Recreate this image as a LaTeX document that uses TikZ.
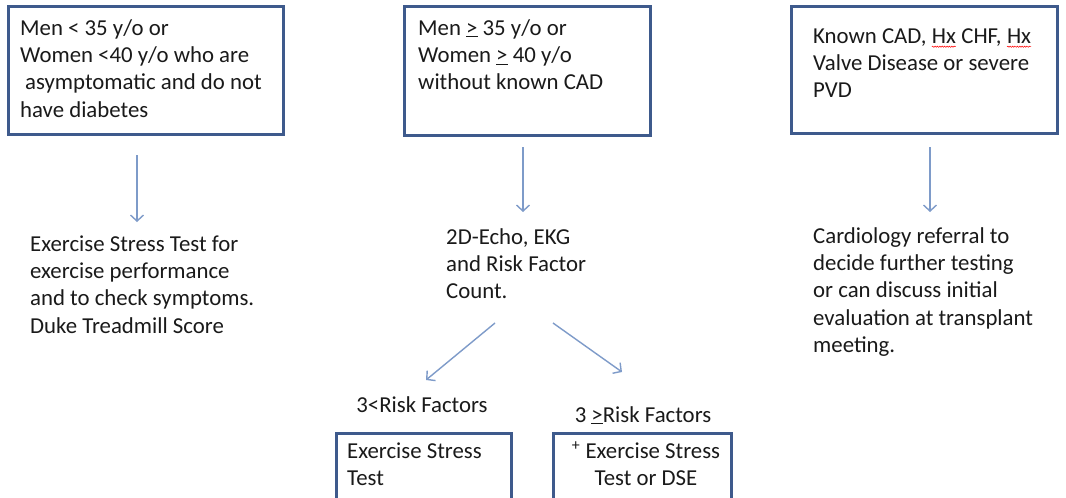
\documentclass[tikz,border=0pt]{standalone}
\usepackage{fontspec}
\setmainfont{Carlito}
\usetikzlibrary{arrows.meta,decorations.pathmorphing}
\definecolor{boxc}{HTML}{3E5A8C}
\definecolor{arrc}{HTML}{7E9BC9}
\definecolor{txtc}{HTML}{1A1A1A}
\newcommand\redsq[1]{\tikz[baseline=(w.base)]{\node[anchor=base,inner sep=0pt,outer sep=0pt,text=txtc] (w) {#1};
  \draw[red,line width=0.5pt,decorate,decoration={snake,amplitude=0.6pt,segment length=2.4pt}]
    ([yshift=-3.5pt]w.base west) -- ([yshift=-3.5pt]w.base east);}}
\begin{document}
\begin{tikzpicture}[x=1pt,y=-1pt,
  box/.style={draw=boxc,line width=2.6pt,rectangle,inner sep=0pt},
  txt/.style={anchor=north west,inner sep=0pt,align=left,text=txtc,
    font=\fontsize{22.8}{27.3}\selectfont},
  ctxt/.style={txt,anchor=north,align=center},
  arr/.style={draw=arrc,line width=1.4pt,-{Straight Barb[length=6pt,width=13pt]}}]
\useasboundingbox[fill=white] (0,0) rectangle (1066,498);
\newcommand\tp{\rule{0pt}{20pt}}
% boxes
\node[box,minimum width=275pt,minimum height=128pt] (b1) at (146,70.5) {};
\node[box,minimum width=246pt,minimum height=129pt] (b2) at (527.5,71) {};
\node[box,minimum width=266pt,minimum height=127pt] (b3) at (924.5,70) {};
\node[box,minimum width=175pt,minimum height=100pt] (b4) at (424,483.5) {};
\node[box,minimum width=178pt,minimum height=100pt] (b5) at (642.5,483.5) {};
% texts
\node[txt] (t1) at (20,15) {\tp Men < 35 y/o or\\Women <40 y/o who are\\\hspace*{5pt}asymptomatic and do not\\have diabetes};
\node[txt] (t2) at (418,15) {\tp Men \underline{>} 35 y/o or\\Women \underline{>} 40 y/o\\without known CAD};
\node[txt] (t3) at (813,23) {\tp Known CAD, \redsq{Hx} CHF, \redsq{Hx}\\Valve Disease or severe\\PVD};
\node[txt] (t4) at (30,231) {\tp Exercise Stress Test for\\exercise performance\\and to check symptoms.\\Duke Treadmill Score};
\node[txt] (t5) at (446,224) {\tp 2D-Echo, EKG\\and Risk Factor\\Count.};
\node[txt] (t6) at (813,223) {\tp Cardiology referral to\\decide further testing\\or can discuss initial\\evaluation at transplant\\meeting.};
\node[ctxt] (l1) at (422,392) {\tp 3<Risk Factors};
\node[ctxt] (l2) at (643,402) {\tp 3 \underline{>}Risk Factors};
\node[txt] (t7) at (347,438) {\tp Exercise Stress\\Test};
\node[ctxt] (t8) at (646,438) {\tp \textsuperscript{+} Exercise Stress\\Test or DSE};
% arrows
\coordinate (a1s) at (137,155); \coordinate (a1e) at (137,222);
\coordinate (a2s) at (523,147); \coordinate (a2e) at (523,212);
\coordinate (a3s) at (930,147); \coordinate (a3e) at (930,212);
\coordinate (a4s) at (495,323); \coordinate (a4e) at (426,380);
\coordinate (a5s) at (553,323); \coordinate (a5e) at (622,372);
\draw[arr] (a1s) -- (a1e);
\draw[arr] (a2s) -- (a2e);
\draw[arr] (a3s) -- (a3e);
\draw[arr] (a4s) -- (a4e);
\draw[arr] (a5s) -- (a5e);
\end{tikzpicture}
\end{document}
